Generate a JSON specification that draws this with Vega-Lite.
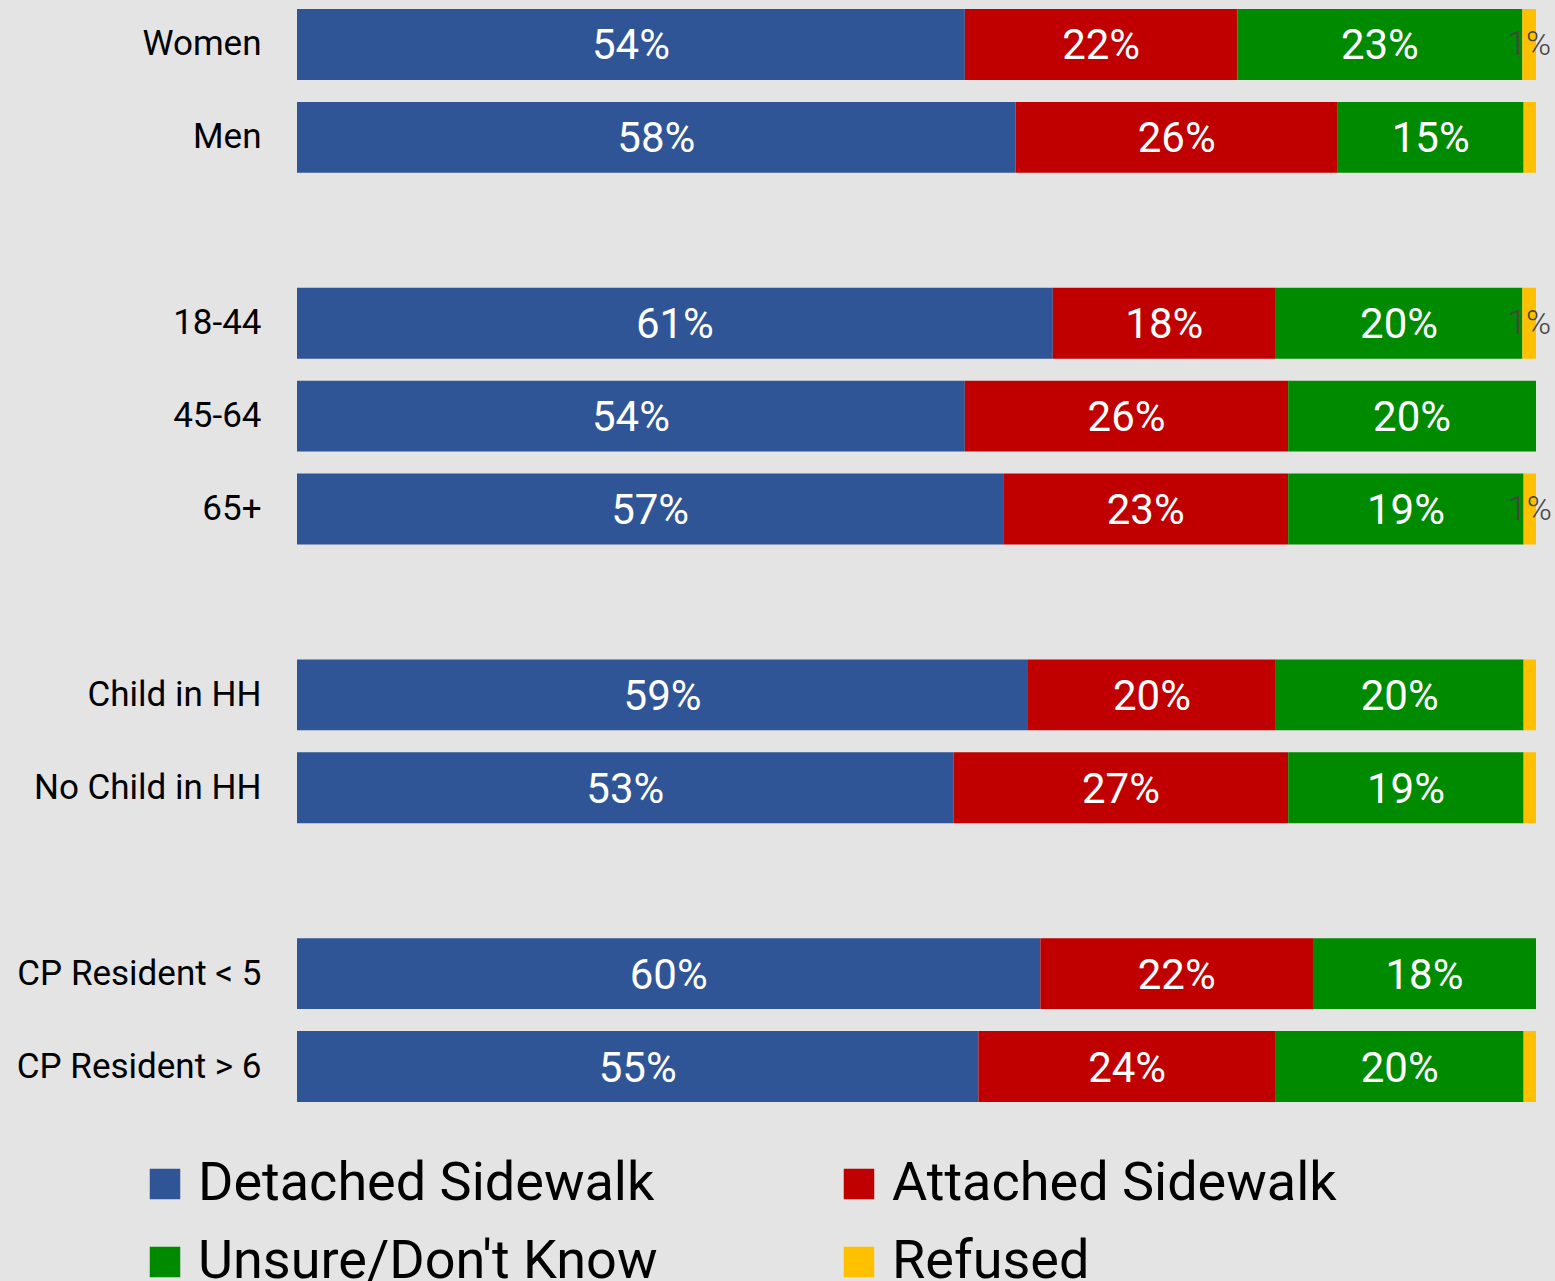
{
  "$schema": "https://vega.github.io/schema/vega-lite/v6.json",
  "autosize": "none",
  "width": 1239,
  "height": 1115,
  "padding": {"left": 297, "top": 0, "right": 19, "bottom": 166},
  "background": "#e4e4e4",
  "config": {"view": {"stroke": null}, "font": "Roboto"},
  "data": {"values": [
    {"group": "Women", "resp": "Detached Sidewalk", "k": 1, "v": 53.9, "lab": "54%"},
    {"group": "Women", "resp": "Attached Sidewalk", "k": 2, "v": 22.0, "lab": "22%"},
    {"group": "Women", "resp": "Unsure/Don't Know", "k": 3, "v": 23.0, "lab": "23%"},
    {"group": "Women", "resp": "Refused", "k": 4, "v": 1.1, "lab": "1%"},
    {"group": "Men", "resp": "Detached Sidewalk", "k": 1, "v": 58.0, "lab": "58%"},
    {"group": "Men", "resp": "Attached Sidewalk", "k": 2, "v": 26.0, "lab": "26%"},
    {"group": "Men", "resp": "Unsure/Don't Know", "k": 3, "v": 15.0, "lab": "15%"},
    {"group": "Men", "resp": "Refused", "k": 4, "v": 1.0, "lab": ""},
    {"group": "18-44", "resp": "Detached Sidewalk", "k": 1, "v": 61.0, "lab": "61%"},
    {"group": "18-44", "resp": "Attached Sidewalk", "k": 2, "v": 18.0, "lab": "18%"},
    {"group": "18-44", "resp": "Unsure/Don't Know", "k": 3, "v": 19.9, "lab": "20%"},
    {"group": "18-44", "resp": "Refused", "k": 4, "v": 1.1, "lab": "1%"},
    {"group": "45-64", "resp": "Detached Sidewalk", "k": 1, "v": 53.9, "lab": "54%"},
    {"group": "45-64", "resp": "Attached Sidewalk", "k": 2, "v": 26.1, "lab": "26%"},
    {"group": "45-64", "resp": "Unsure/Don't Know", "k": 3, "v": 20.0, "lab": "20%"},
    {"group": "45-64", "resp": "Refused", "k": 4, "v": 0, "lab": ""},
    {"group": "65+", "resp": "Detached Sidewalk", "k": 1, "v": 57.0, "lab": "57%"},
    {"group": "65+", "resp": "Attached Sidewalk", "k": 2, "v": 23.0, "lab": "23%"},
    {"group": "65+", "resp": "Unsure/Don't Know", "k": 3, "v": 19.0, "lab": "19%"},
    {"group": "65+", "resp": "Refused", "k": 4, "v": 1.0, "lab": "1%"},
    {"group": "Child in HH", "resp": "Detached Sidewalk", "k": 1, "v": 59.0, "lab": "59%"},
    {"group": "Child in HH", "resp": "Attached Sidewalk", "k": 2, "v": 20.0, "lab": "20%"},
    {"group": "Child in HH", "resp": "Unsure/Don't Know", "k": 3, "v": 20.0, "lab": "20%"},
    {"group": "Child in HH", "resp": "Refused", "k": 4, "v": 1.0, "lab": ""},
    {"group": "No Child in HH", "resp": "Detached Sidewalk", "k": 1, "v": 53.0, "lab": "53%"},
    {"group": "No Child in HH", "resp": "Attached Sidewalk", "k": 2, "v": 27.0, "lab": "27%"},
    {"group": "No Child in HH", "resp": "Unsure/Don't Know", "k": 3, "v": 19.0, "lab": "19%"},
    {"group": "No Child in HH", "resp": "Refused", "k": 4, "v": 1.0, "lab": ""},
    {"group": "CP Resident < 5", "resp": "Detached Sidewalk", "k": 1, "v": 60.0, "lab": "60%"},
    {"group": "CP Resident < 5", "resp": "Attached Sidewalk", "k": 2, "v": 22.0, "lab": "22%"},
    {"group": "CP Resident < 5", "resp": "Unsure/Don't Know", "k": 3, "v": 18.0, "lab": "18%"},
    {"group": "CP Resident < 5", "resp": "Refused", "k": 4, "v": 0, "lab": ""},
    {"group": "CP Resident > 6", "resp": "Detached Sidewalk", "k": 1, "v": 55.0, "lab": "55%"},
    {"group": "CP Resident > 6", "resp": "Attached Sidewalk", "k": 2, "v": 24.0, "lab": "24%"},
    {"group": "CP Resident > 6", "resp": "Unsure/Don't Know", "k": 3, "v": 20.0, "lab": "20%"},
    {"group": "CP Resident > 6", "resp": "Refused", "k": 4, "v": 1.0, "lab": ""}
  ]},
  "transform": [
    {"stack": "v", "groupby": ["group"], "sort": [{"field": "k"}], "as": ["s0", "s1"]},
    {"calculate": "(datum.s0 + datum.s1) / 2", "as": "mid"}
  ],
  "encoding": {
    "y": {
      "field": "group", "type": "nominal",
      "scale": {
        "domain": ["Women", "Men", " ", "18-44", "45-64", "65+", "  ", "Child in HH", "No Child in HH", "   ", "CP Resident < 5", "CP Resident > 6"],
        "range": [-2, 1113],
        "paddingInner": 0.236, "paddingOuter": 0.118
      },
      "axis": {"title": null, "ticks": false, "domain": false, "labelFontSize": 35, "labelColor": "#000000", "labelPadding": 36, "labelFont": "Roboto", "labelLimit": 400}
    }
  },
  "layer": [
    {
      "mark": {"type": "bar"},
      "encoding": {
        "x": {"field": "s0", "type": "quantitative", "scale": {"domain": [0, 100], "nice": false}, "axis": null},
        "x2": {"field": "s1"},
        "color": {
          "field": "resp", "type": "nominal",
          "scale": {
            "domain": ["Detached Sidewalk", "Unsure/Don't Know", "Attached Sidewalk", "Refused"],
            "range": ["#2F5597", "#008A00", "#C00000", "#FFC000"]
          },
          "legend": {
            "title": null, "orient": "none", "legendX": -159, "legendY": 1157,
            "columns": 2, "columnPadding": 174, "rowPadding": 24,
            "symbolType": "square", "symbolSize": 930, "symbolStrokeWidth": 0, "symbolOpacity": 1,
            "labelFontSize": 54, "labelFont": "Roboto", "labelColor": "#000000", "labelOffset": 6, "labelLimit": 800
          }
        }
      }
    },
    {
      "transform": [{"filter": "datum.k < 4"}],
      "mark": {"type": "text", "color": "#ffffff", "fontSize": 42, "baseline": "middle", "align": "center", "dy": 2},
      "encoding": {
        "x": {"field": "mid", "type": "quantitative"},
        "text": {"field": "lab"}
      }
    },
    {
      "transform": [{"filter": "datum.k == 4"}],
      "mark": {"type": "text", "color": "#444444", "fontSize": 34, "fontWeight": 300, "baseline": "middle", "align": "center", "dy": 1},
      "encoding": {
        "x": {"field": "mid", "type": "quantitative"},
        "text": {"field": "lab"}
      }
    }
  ]
}
